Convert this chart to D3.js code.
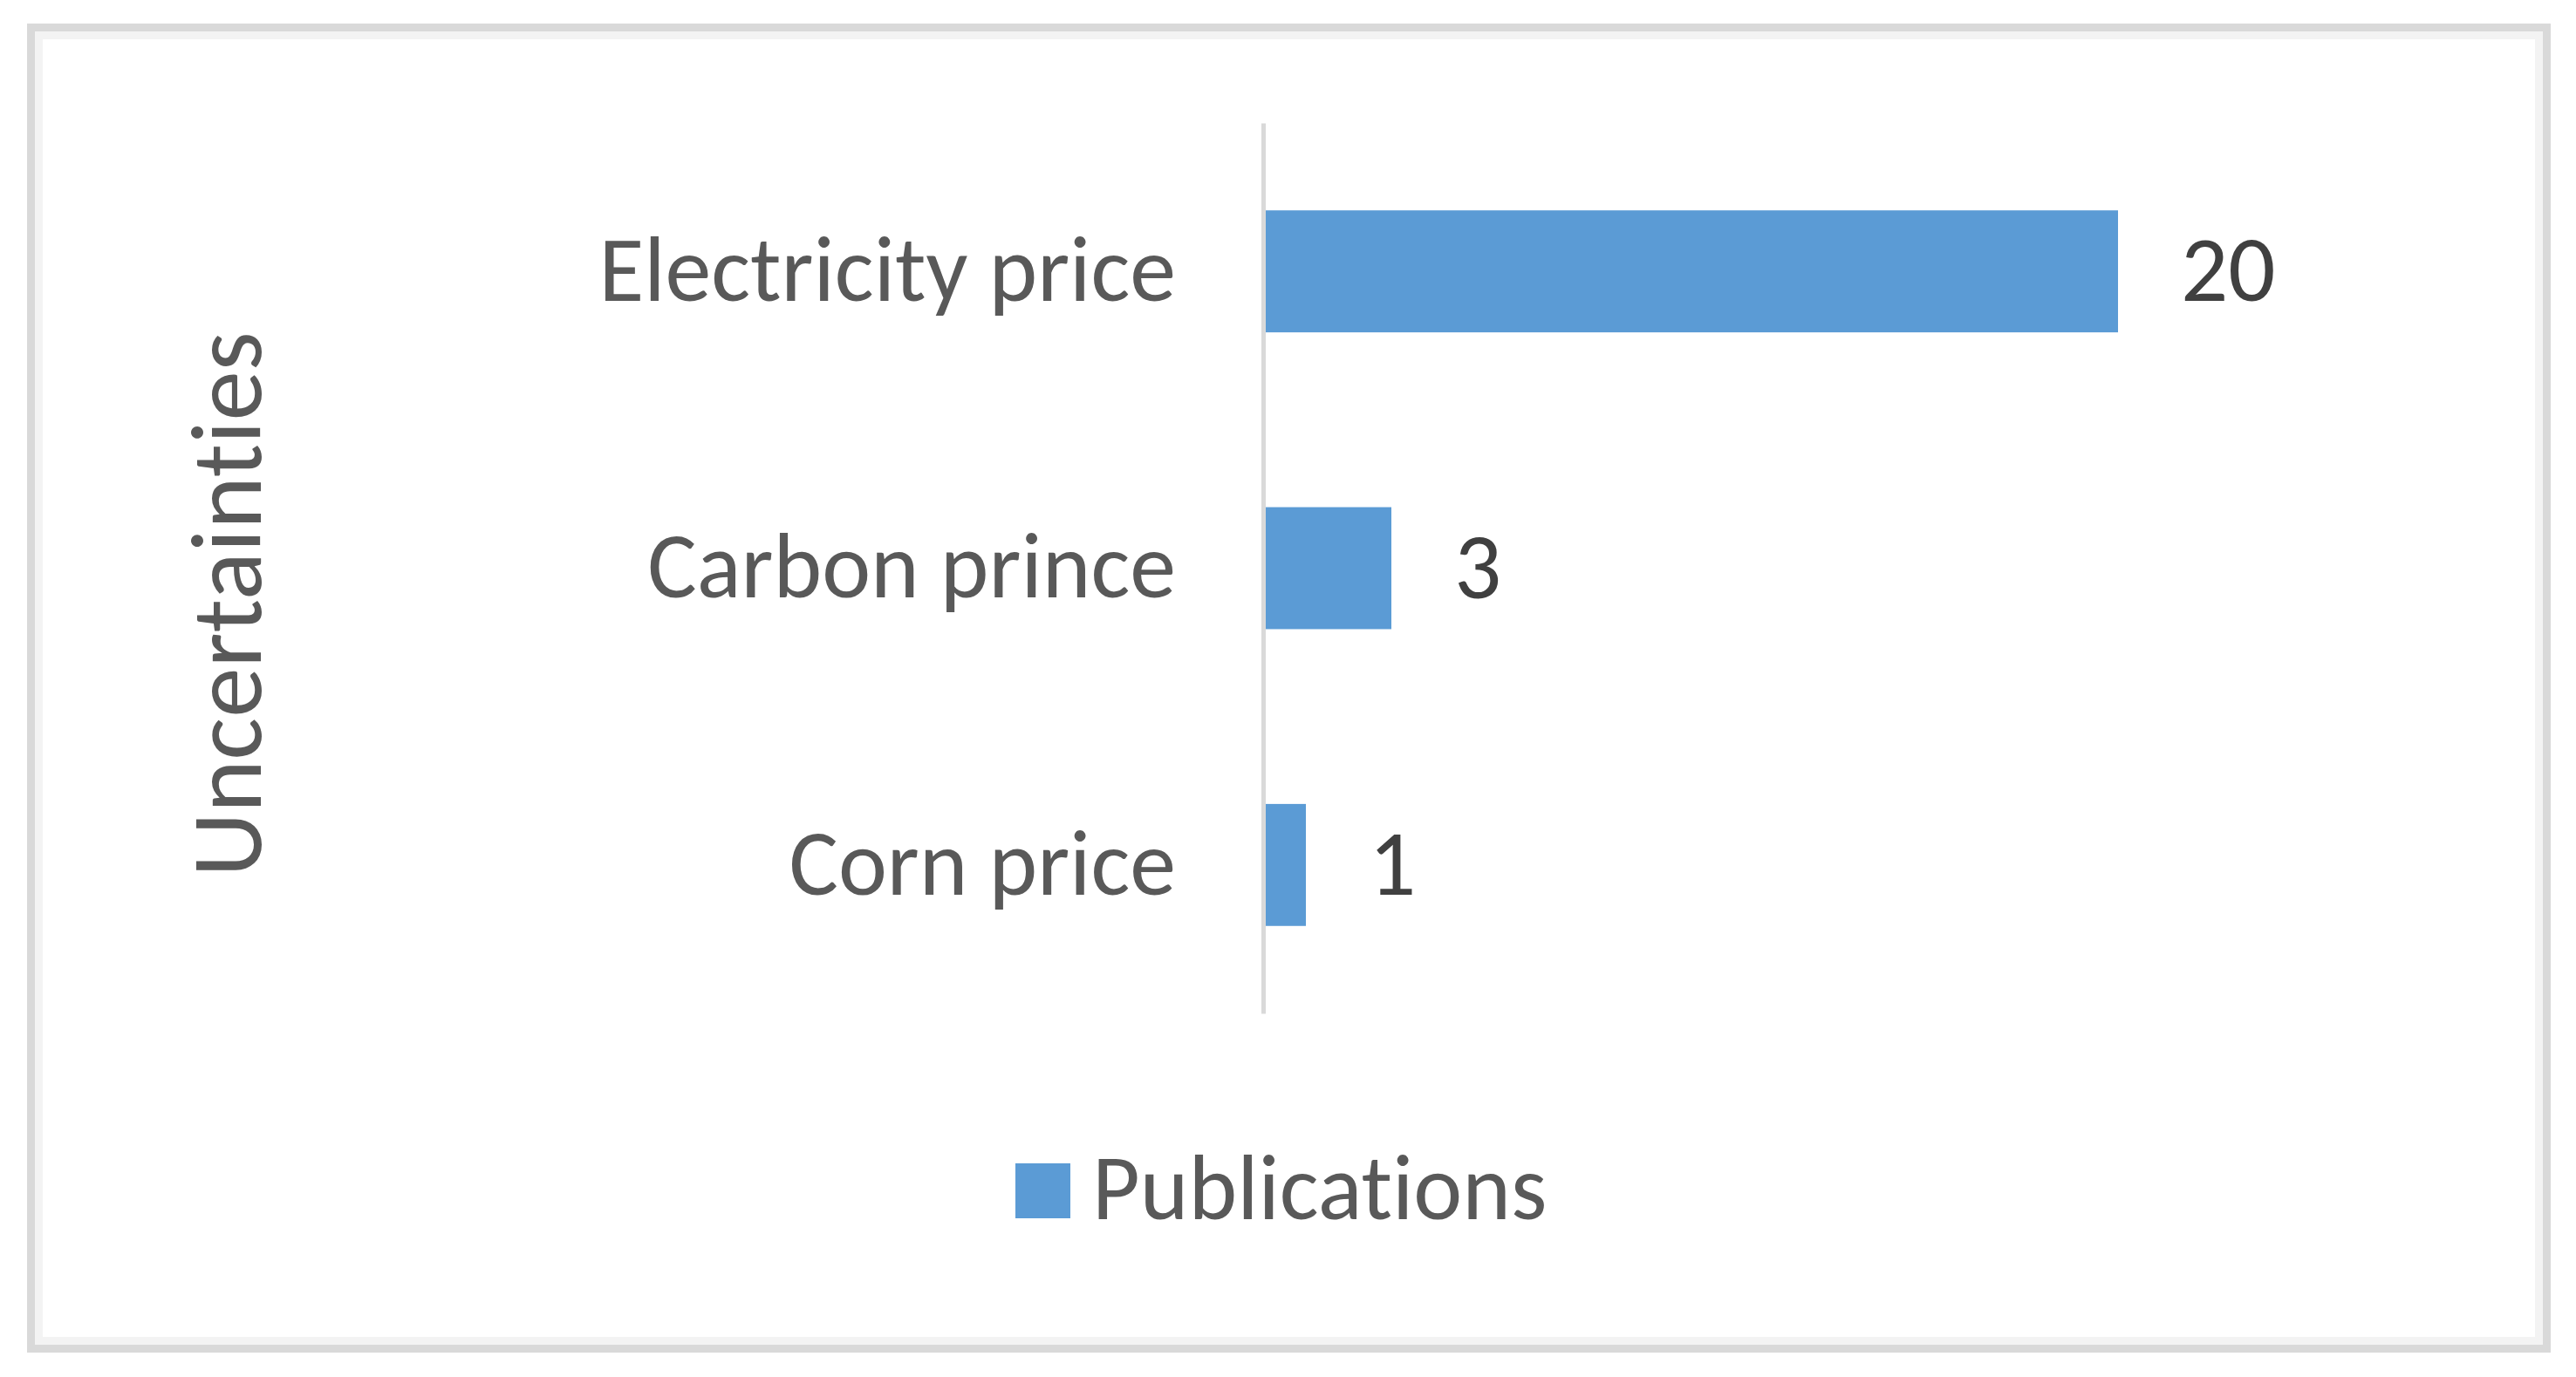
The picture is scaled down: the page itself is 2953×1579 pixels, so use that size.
<!DOCTYPE html>
<html>
<head>
    <title>Uncertainties</title>
    <script src="https://d3js.org/d3.v7.min.js"></script>
    <style>
        body { margin: 0; background: #fff; }
        text {
            font-family: Carlito, Calibri, "Open Sans", sans-serif;
            font-variant-ligatures: none; /* no "ti" ligature in the original */
        }
        .axis path {
            stroke: #d9d9d9;
            stroke-width: 5;
        }
        .axis text {
            fill: #595959;
            font-size: 106px;
        }
        .bar { fill: #5b9bd5; }
        .value { fill: #404040; font-size: 107px; }
    </style>
</head>
<body>
    <svg id="chart"></svg>

    <script>
        var categories = ["Electricity price", "Carbon prince", "Corn price"];
        var publications = [20, 3, 1];
        var seriesName = "Publications";
        var axisTitle = "Uncertainties";

        var W = 2953, H = 1579;

        var svg = d3.select("#chart")
            .attr("width", W)
            .attr("height", H);

        // chart area frame
        svg.append("rect")
            .attr("x", 35.5).attr("y", 31.5)
            .attr("width", 2884).attr("height", 1515)
            .attr("fill", "#fff")
            .attr("stroke", "#d9d9d9")
            .attr("stroke-width", 9);
        svg.append("rect")
            .attr("x", 44.5).attr("y", 40.5)
            .attr("width", 2866).attr("height", 1497)
            .attr("fill", "none")
            .attr("stroke", "#f3f3f3")
            .attr("stroke-width", 9);

        var x = d3.scaleLinear().domain([0, 20]).range([1448, 2428]);
        var y = d3.scaleBand()
            .domain(categories)
            .range([141, 1162])
            .paddingInner(0.589)
            .paddingOuter(0.2945);

        var data = categories.map(function(c, i) { return {name: c, value: publications[i]}; });

        svg.selectAll(".bar")
            .data(data)
            .enter().append("rect")
            .attr("class", "bar")
            .attr("x", x(0))
            .attr("y", function(d) { return y(d.name); })
            .attr("width", function(d) { return x(d.value) - x(0); })
            .attr("height", y.bandwidth());

        var yAxis = d3.axisLeft(y).tickSize(0).tickSizeOuter(0).tickPadding(100);
        var gy = svg.append("g")
            .attr("class", "axis")
            .attr("transform", "translate(" + x(0) + ",0)")
            .call(yAxis);
        gy.selectAll("text").attr("dy", "0.32em");

        svg.selectAll(".value")
            .data(data)
            .enter().append("text")
            .attr("class", "value")
            .attr("x", function(d) { return x(d.value) + 72; })
            .attr("y", function(d) { return y(d.name) + y.bandwidth() / 2; })
            .attr("dy", "0.32em")
            .text(function(d) { return d.value; });

        // axis title
        svg.append("text")
            .attr("transform", "translate(299,693) rotate(-90)")
            .attr("text-anchor", "middle")
            .attr("fill", "#595959")
            .attr("font-size", 115)
            .text(axisTitle);

        // legend
        var legend = svg.append("g").attr("transform", "translate(1164,1334)");
        legend.append("rect")
            .attr("class", "bar")
            .attr("width", 63).attr("height", 63);
        legend.append("text")
            .attr("x", 88).attr("y", 64)
            .attr("fill", "#595959")
            .attr("font-size", 106)
            .text(seriesName);
    </script>
</body>
</html>
